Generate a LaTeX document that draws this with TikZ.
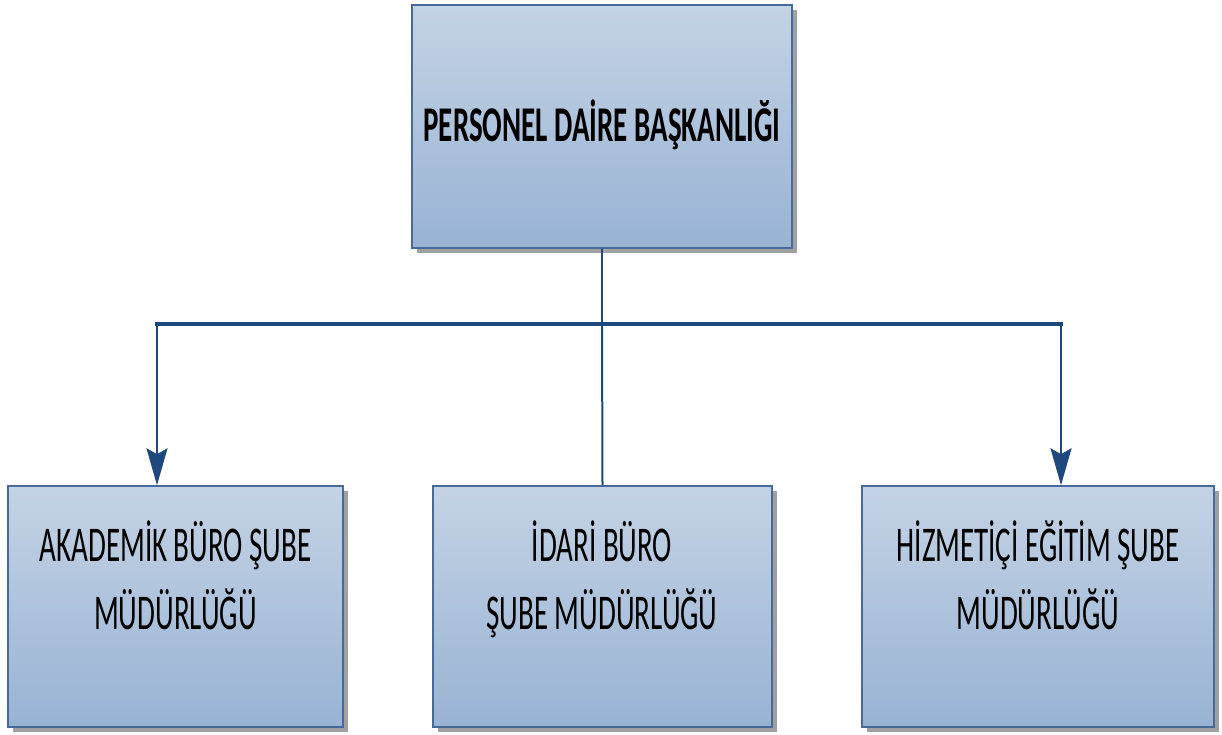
\documentclass[tikz,border=0pt]{standalone}
\usepackage{fontspec}
\setmainfont{Carlito}
\newfontfamily\boxfont[FakeStretch=0.58]{Carlito}
\usetikzlibrary{arrows.meta,shadows}
\definecolor{linecol}{RGB}{31,73,125}
\definecolor{bordercol}{RGB}{72,106,155}
\definecolor{filltop}{RGB}{196,211,229}
\definecolor{fillbot}{RGB}{152,179,211}
\definecolor{shadowcol}{RGB}{160,160,160}
\tikzset{
  orgbox/.style={draw=bordercol, line width=1.5pt, top color=filltop, bottom color=fillbot,
    rectangle, inner sep=0pt,
    general shadow={fill=shadowcol, shadow xshift=5pt, shadow yshift=-5pt}},
  boxtext/.style={font=\boxfont\fontsize{50}{68}\selectfont, align=center, anchor=base, inner sep=0pt},
  conn/.style={draw=linecol, line width=2.5pt},
  bus/.style={draw=linecol, line width=4pt},
  arr/.style={conn, -{Stealth[length=37pt, width=21pt, inset=6pt]}}
}
\begin{document}
\begin{tikzpicture}[x=1pt,y=1pt]
\useasboundingbox (0,0) rectangle (1222,735);
% boxes
\node[orgbox, minimum width=380pt, minimum height=243pt] (top) at (602,608.5) {};
\node[orgbox, minimum width=335pt, minimum height=241pt] (left) at (175.5,128.5) {};
\node[orgbox, minimum width=339pt, minimum height=241pt] (mid) at (602.5,128.5) {};
\node[orgbox, minimum width=352pt, minimum height=241pt] (right) at (1038,128.5) {};
% texts
\node[boxtext, font=\boxfont\bfseries\fontsize{50}{68}\selectfont] (toptext) at (602,593) {PERSONEL DAİRE BAŞKANLIĞI};
\node[boxtext] (lefttext) at (175.5,105) {AKADEMİK BÜRO ŞUBE\\MÜDÜRLÜĞÜ};
\node[boxtext] (midtext) at (602,105) {İDARİ BÜRO\\ŞUBE MÜDÜRLÜĞÜ};
\node[boxtext] (righttext) at (1038,105) {HİZMETİÇİ EĞİTİM ŞUBE\\MÜDÜRLÜĞÜ};
% connectors
\coordinate (busL) at (157,411);
\coordinate (busR) at (1061,411);
\coordinate (busM) at (602,411);
\draw[bus, line cap=rect] (busL) -- (busR);
\draw[conn] (top.south) -- (busM);
\draw[conn, line width=2pt] (busM) -- (mid.north);
\draw[arr] (busL) -- (busL |- left.north);
\draw[arr] (busR) -- (busR |- right.north);
\end{tikzpicture}
\end{document}
